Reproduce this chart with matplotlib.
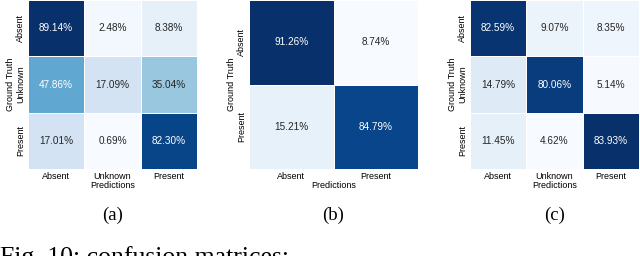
import numpy as np
import matplotlib
matplotlib.use("Agg")
import matplotlib.pyplot as plt
import seaborn as sns

# confusion matrices in percent (rows = ground truth, cols = predictions)
labels_3 = ["Absent", "Unknown", "Present"]
labels_2 = ["Absent", "Present"]

cm_a = [[89.14, 2.48, 8.38],
        [47.86, 17.09, 35.04],
        [17.01, 0.69, 82.30]]
cm_b = [[91.26, 8.74],
        [15.21, 84.79]]
cm_c = [[82.59, 9.07, 8.35],
        [14.79, 80.06, 5.14],
        [11.45, 4.62, 83.93]]

captions = ["(a)", "(b)", "(c)"]
fig_caption = "Fig. 10: confusion matrices:"

plt.rcParams["font.family"] = ["Liberation Sans", "DejaVu Sans"]

fig = plt.figure(figsize=(6.4, 2.56), dpi=100)

panels = [(cm_a, labels_3, 28), (cm_b, labels_2, 249), (cm_c, labels_3, 470)]
size = 169 / 640.0
height = 169 / 256.0

for i, (cm, labels, left_px) in enumerate(panels):
    ax = fig.add_axes([left_px / 640.0, 1 - height, size, height])
    data = np.array(cm)
    annot = np.array([["%.2f%%" % v for v in row] for row in data])
    sns.heatmap(data, ax=ax, cmap="Blues", annot=annot, fmt="", cbar=False,
                linewidths=0.5, linecolor="white",
                annot_kws={"fontsize": 7.2},
                xticklabels=labels, yticklabels=labels)
    ax.tick_params(length=0, labelsize=6.5, pad=2)
    ax.set_yticklabels(labels, rotation=90, va="center")
    ax.set_xticklabels(labels, rotation=0)
    ax.set_xlabel("Predictions", fontsize=6.5, labelpad=0)
    ax.set_ylabel("Ground Truth", fontsize=6.5, labelpad=1)
    cx = (left_px + 169 / 2.0) / 640.0
    fig.text(cx, 0.1426, captions[i], ha="center", va="baseline",
             fontsize=13.5, family="Liberation Serif")

# figure caption, cut off at the bottom edge like in the source
fig.text(0.0, -0.03, fig_caption, ha="left", va="baseline",
         fontsize=18.5, family="Liberation Serif")

fig.savefig("out.png", dpi=100)
